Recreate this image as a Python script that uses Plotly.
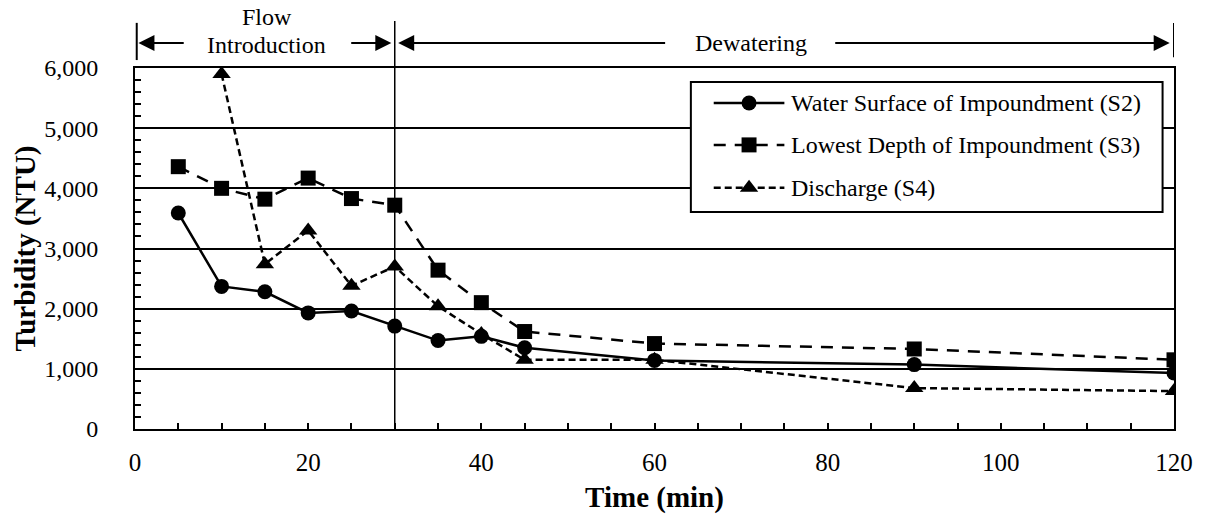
import plotly.graph_objects as go

time_min = [5, 10, 15, 20, 25, 30, 35, 40, 45, 60, 90, 120]
s2_surface = [3590, 2370, 2280, 1930, 1960, 1710, 1470, 1540, 1350, 1140, 1070, 930]
s3_lowest = [4360, 4000, 3820, 4170, 3830, 3720, 2640, 2100, 1620, 1420, 1330, 1150]
s4_discharge = [None, 5900, 2740, 3300, 2380, 2700, 2040, 1580, 1150, 1150, 680, 630]

series_names = [
    "Water Surface of Impoundment (S2)",
    "Lowest Depth of Impoundment (S3)",
    "Discharge (S4)",
]
series_values = [s2_surface, s3_lowest, s4_discharge]

FONT = "Liberation Serif"
dashes = ["solid", "12px,9px", "7px,4px"]
symbols = ["circle", "square", "triangle-up"]
sizes = [15, 15, 16]

# plot area in px, used to size the hand-drawn legend symbols
PW, PH = 1041, 361

fig = go.Figure()
for name, vals, dash, sym, sz in zip(series_names, series_values, dashes, symbols, sizes):
    fig.add_trace(go.Scatter(
        x=time_min, y=vals, name=name, mode="lines+markers",
        line=dict(color="black", width=2.5, dash=dash),
        marker=dict(symbol=sym, size=sz, color="black"),
        connectgaps=True, showlegend=False,
    ))

# hand-drawn legend (plotly's own legend has short samples)
box_x0, box_x1, box_y0, box_y1 = 0.535, 0.989, 0.601, 0.961
row_y = [0.903, 0.787, 0.668]
samp_x0, samp_mid, samp_x1 = 0.557, 0.591, 0.625
shapes = [dict(type="rect", xref="paper", yref="paper",
               x0=box_x0, x1=box_x1, y0=box_y0, y1=box_y1,
               fillcolor="white", line=dict(color="black", width=2), layer="above")]
annotations = []
black = dict(color="black", width=0)
for i, (name, dash, sym, sz) in enumerate(zip(series_names, dashes, symbols, sizes)):
    cy = row_y[i]
    shapes.append(dict(type="line", xref="paper", yref="paper",
                       x0=samp_x0, x1=samp_x1, y0=cy, y1=cy,
                       line=dict(color="black", width=2.5, dash=dash), layer="above"))
    hx, hy = (sz / 2) / PW, (sz / 2) / PH
    if sym == "circle":
        shapes.append(dict(type="circle", xref="paper", yref="paper",
                           x0=samp_mid - hx, x1=samp_mid + hx, y0=cy - hy, y1=cy + hy,
                           fillcolor="black", line=black, layer="above"))
    elif sym == "square":
        shapes.append(dict(type="rect", xref="paper", yref="paper",
                           x0=samp_mid - hx, x1=samp_mid + hx, y0=cy - hy, y1=cy + hy,
                           fillcolor="black", line=black, layer="above"))
    else:
        rt = (sz / 2) * 2 / 3 ** 0.5 / PW
        base = cy - (sz / 4) / PH
        apex = cy + (sz / 2) / PH
        path = (f"M {samp_mid - rt},{base} L {samp_mid + rt},{base} "
                f"L {samp_mid},{apex} Z")
        shapes.append(dict(type="path", xref="paper", yref="paper", path=path,
                           fillcolor="black", line=black, layer="above"))
    annotations.append(dict(
        x=0.629, y=cy, xref="paper", yref="paper", text=name, showarrow=False,
        xanchor="left", yanchor="middle",
        font=dict(family=FONT, size=24, color="black"),
    ))

# phase markers above the plot area
shapes += [
    dict(type="line", xref="x", yref="paper", x0=30, x1=30, y0=0, y1=1.13,
         line=dict(color="black", width=1.5)),
    dict(type="line", xref="x", yref="paper", x0=0.2, x1=0.2, y0=1.022, y1=1.125,
         line=dict(color="black", width=2)),
    dict(type="line", xref="x", yref="paper", x0=120, x1=120, y0=1.03, y1=1.125,
         line=dict(color="black", width=2)),
]
arrow_y = 1.069
arrows = [(5.8, 0.4), (24.8, 29.6), (61.4, 30.4), (80.7, 119.5)]
for tail, head in arrows:
    annotations.append(dict(
        x=head, y=arrow_y, xref="x", yref="paper",
        ax=tail, ay=0, axref="x", ayref="pixel",
        showarrow=True, arrowhead=2, arrowsize=1.6, arrowwidth=2,
        arrowcolor="black", text="",
    ))
annotations.append(dict(
    x=15.2, y=1.141, xref="x", yref="paper", text="Flow",
    showarrow=False, yanchor="middle", borderpad=0,
    font=dict(family=FONT, size=24, color="black"),
))
annotations.append(dict(
    x=15.2, y=1.064, xref="x", yref="paper", text="Introduction",
    showarrow=False, yanchor="middle", borderpad=0,
    font=dict(family=FONT, size=24, color="black"),
))
annotations.append(dict(
    x=71.1, y=1.069, xref="x", yref="paper", text="Dewatering",
    showarrow=False, yanchor="middle",
    font=dict(family=FONT, size=24, color="black"),
))

fig.update_layout(
    width=1205, height=521,
    margin=dict(l=135, r=29, t=68, b=92),
    plot_bgcolor="white", paper_bgcolor="white",
    font=dict(family=FONT, size=24, color="black"),
    shapes=shapes, annotations=annotations,
    showlegend=False,
    xaxis=dict(
        range=[0, 120], dtick=20, tick0=0,
        showline=True, linecolor="black", linewidth=2, mirror=True,
        ticks="inside", ticklen=6, tickwidth=1.5, tickcolor="black",
        minor=dict(dtick=5, ticks="inside", ticklen=6, tickwidth=1.5, tickcolor="black"),
        showgrid=False, zeroline=False,
        tickfont=dict(size=25), ticklabelstandoff=10,
        title=dict(text="<b>Time (min)</b>", font=dict(size=29), standoff=12),
    ),
    yaxis=dict(
        range=[0, 6000], dtick=1000, tickformat=",",
        showline=True, linecolor="black", linewidth=2, mirror=True,
        ticks="inside", ticklen=6, tickwidth=1.5, tickcolor="black",
        minor=dict(dtick=200, ticks="inside", ticklen=6, tickwidth=1.5, tickcolor="black"),
        showgrid=True, gridcolor="black", gridwidth=1.5, zeroline=False,
        tickfont=dict(size=24), ticklabelstandoff=30,
        title=dict(text="<b>Turbidity (NTU)</b>", font=dict(size=29), standoff=0),
    ),
)

# drop the default 8px page margin so the figure fills the window
fig.write_html(
    "out.html",
    config={"displayModeBar": False},
    post_script="document.body.style.margin = '0';",
)
